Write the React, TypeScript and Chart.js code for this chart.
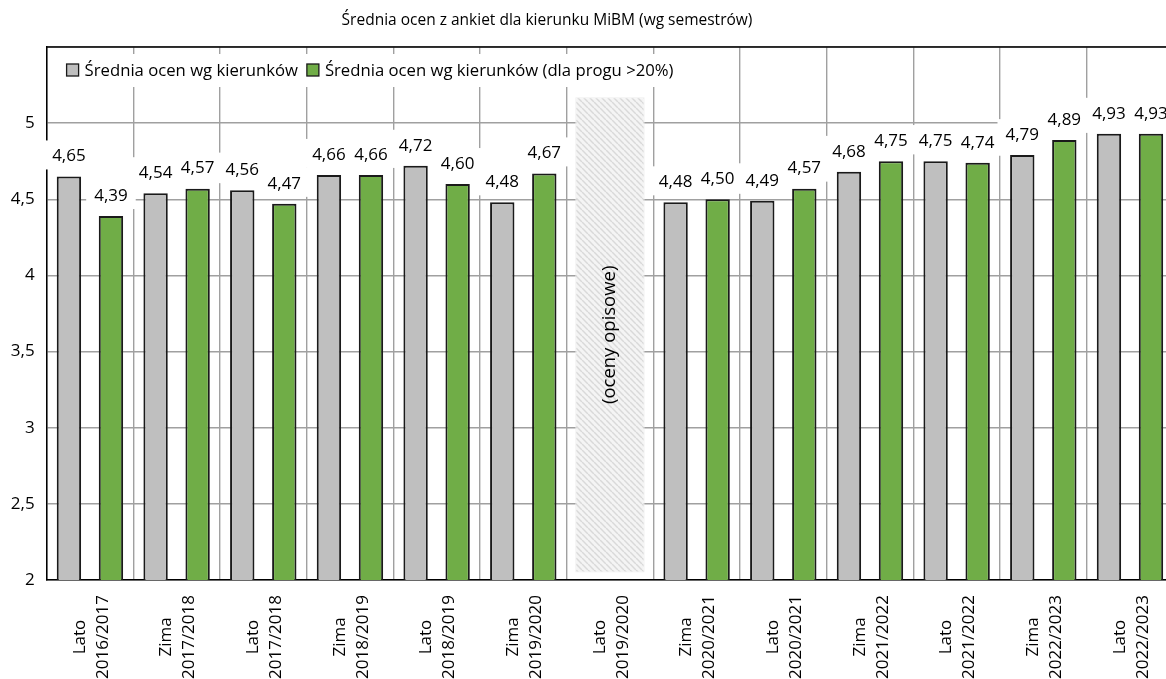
import React, { useEffect, useRef } from 'react';
import { Chart, registerables } from 'chart.js';

Chart.register(...registerables);

// ---------- data ----------
const chartTitle = 'Średnia ocen z ankiet dla kierunku MiBM (wg semestrów)';
const seriesNames = ['Średnia ocen wg kierunków', 'Średnia ocen wg kierunków (dla progu >20%)'];
const semesterSeason = ['Lato', 'Zima', 'Lato', 'Zima', 'Lato', 'Zima', 'Lato', 'Zima', 'Lato', 'Zima', 'Lato', 'Zima', 'Lato'];
const semesterYear = [
  '2016/2017', '2017/2018', '2017/2018', '2018/2019', '2018/2019', '2019/2020', '2019/2020',
  '2020/2021', '2020/2021', '2021/2022', '2021/2022', '2022/2023', '2022/2023',
];
const averageAll: (number | null)[] = [4.65, 4.54, 4.56, 4.66, 4.72, 4.48, null, 4.48, 4.49, 4.68, 4.75, 4.79, 4.93];
const averageThreshold: (number | null)[] = [4.39, 4.57, 4.47, 4.66, 4.6, 4.67, null, 4.5, 4.57, 4.75, 4.74, 4.89, 4.93];
const descriptiveRange: ([number, number] | null)[] = [null, null, null, null, null, null, [2.05, 5.17], null, null, null, null, null, null];
const descriptiveNote = '(oceny opisowe)';
const yMin = 2;
const yMax = 5.5;
const yStep = 0.5;

// ---------- styles ----------
const FONT = "'Open Sans', 'Noto Sans', sans-serif";
const GRAY = '#bfbfbf';
const GREEN = '#70ad47';
const BORDER = '#1a1a1a';
const GRID = '#a0a0a0';
const TEXT = '#000000';

function makeHatch(): CanvasPattern | string {
  const s = 6;
  const c = document.createElement('canvas');
  c.width = s;
  c.height = s;
  const g = c.getContext('2d');
  if (!g) return '#e6e6e6';
  g.fillStyle = '#f4f4f4';
  g.fillRect(0, 0, s, s);
  g.strokeStyle = '#d9d9d9';
  g.lineWidth = 1.5;
  for (const k of [-s, 0, s]) {
    g.beginPath();
    g.moveTo(k, 0);
    g.lineTo(k + s, s);
    g.stroke();
  }
  return g.createPattern(c, 'repeat') || '#e6e6e6';
}

const fmt = (v: number) => v.toFixed(2).replace('.', ',');

const overlayPlugin = {
  id: 'overlay',
  afterDatasetsDraw(chart: any) {
    const ctx: CanvasRenderingContext2D = chart.ctx;
    const area = chart.chartArea;
    ctx.save();
    // top frame line
    ctx.strokeStyle = '#000';
    ctx.lineWidth = 1.5;
    ctx.beginPath();
    ctx.moveTo(area.left, area.top);
    ctx.lineTo(area.right, area.top);
    ctx.stroke();

    // note inside the descriptive box
    const m2 = chart.getDatasetMeta(2);
    m2.data.forEach((el: any, i: number) => {
      if (!descriptiveRange[i]) return;
      const cy = (el.y + el.base) / 2;
      ctx.save();
      ctx.translate(el.x, cy);
      ctx.rotate(-Math.PI / 2);
      ctx.font = `18.5px ${FONT}`;
      ctx.fillStyle = TEXT;
      ctx.textAlign = 'center';
      ctx.textBaseline = 'middle';
      ctx.fillText(descriptiveNote, 0, 0);
      ctx.restore();
    });

    // data labels with white boxes
    ctx.font = `17px ${FONT}`;
    const items: { x: number; y: number; t: string; w: number }[] = [];
    [averageAll, averageThreshold].forEach((arr, di) => {
      const meta = chart.getDatasetMeta(di);
      meta.data.forEach((el: any, i: number) => {
        const v = arr[i];
        if (v == null) return;
        const t = fmt(v);
        const w = ctx.measureText(t).width + 16;
        items.push({ x: el.x, y: el.y - 21, t, w });
      });
    });
    ctx.fillStyle = '#ffffff';
    items.forEach((it) => ctx.fillRect(it.x - it.w / 2, it.y - 15, it.w, 29));
    ctx.fillStyle = TEXT;
    ctx.textAlign = 'center';
    ctx.textBaseline = 'middle';
    items.forEach((it) => ctx.fillText(it.t, it.x, it.y + 1));
    ctx.restore();
  },
  afterDraw(chart: any) {
    const ctx: CanvasRenderingContext2D = chart.ctx;
    const area = chart.chartArea;
    ctx.save();
    // title
    ctx.font = `15.5px ${FONT}`;
    ctx.fillStyle = TEXT;
    ctx.textAlign = 'center';
    ctx.textBaseline = 'middle';
    ctx.fillText(chartTitle, 547, 21);

    // legend (inside plot, top-left)
    ctx.font = `16.7px ${FONT}`;
    const colors = [GRAY, GREEN];
    const lx0 = area.left + 20;
    const ly = area.top + 23;
    let x = lx0;
    const widths = seriesNames.map((n) => ctx.measureText(n).width);
    const totalW = 12 + 6 + widths[0] + 9 + 12 + 6 + widths[1];
    ctx.fillStyle = '#ffffff';
    ctx.fillRect(lx0 - 10, ly - 16, totalW + 20, 33);
    seriesNames.forEach((n, i) => {
      ctx.fillStyle = colors[i];
      ctx.fillRect(x, ly - 6, 12, 12);
      ctx.strokeStyle = BORDER;
      ctx.lineWidth = 1.3;
      ctx.strokeRect(x, ly - 6, 12, 12);
      ctx.fillStyle = TEXT;
      ctx.textAlign = 'left';
      ctx.textBaseline = 'middle';
      ctx.fillText(n, x + 18, ly + 1);
      x += 18 + widths[i] + 9;
    });

    // x-axis labels: two lines, rotated, centred
    const xs = chart.scales.x;
    ctx.font = `17px ${FONT}`;
    ctx.fillStyle = TEXT;
    ctx.textAlign = 'center';
    ctx.textBaseline = 'middle';
    semesterSeason.forEach((s, i) => {
      const px = xs.getPixelForTick(i);
      ctx.save();
      ctx.translate(px + 1.5, area.bottom + 57);
      ctx.rotate(-Math.PI / 2);
      ctx.fillText(s, 0, -11.5);
      ctx.fillText(semesterYear[i], 0, 11.5);
      ctx.restore();
    });
    ctx.restore();
  },
};

export default function App() {
  const ref = useRef<HTMLCanvasElement | null>(null);

  useEffect(() => {
    if (!ref.current) return;
    const labels = semesterSeason.map((s, i) => [s, semesterYear[i]]);
    const chart = new Chart(ref.current, {
      type: 'bar',
      data: {
        labels,
        datasets: [
          {
            label: seriesNames[0],
            data: averageAll as any,
            backgroundColor: GRAY,
            borderColor: BORDER,
            borderWidth: 2,
            categoryPercentage: 0.97,
            barPercentage: 0.58,
          },
          {
            label: seriesNames[1],
            data: averageThreshold as any,
            backgroundColor: GREEN,
            borderColor: BORDER,
            borderWidth: 2,
            categoryPercentage: 0.97,
            barPercentage: 0.58,
          },
          {
            label: descriptiveNote,
            data: descriptiveRange as any,
            backgroundColor: makeHatch() as any,
            borderColor: '#ededed',
            borderWidth: 1,
            borderSkipped: false,
            grouped: false,
            categoryPercentage: 1,
            barPercentage: 0.8,
          } as any,
        ],
      },
      options: {
        animation: false,
        responsive: false,
        devicePixelRatio: 1,
        layout: { padding: { left: 0, right: 6.7, top: 47, bottom: 0 } },
        plugins: {
          legend: { display: false },
          title: { display: false },
          tooltip: { enabled: false },
        },
        scales: {
          x: {
            offset: true,
            grid: { display: true, offset: true, color: GRID, lineWidth: 1.4, drawTicks: false },
            border: { display: true, color: '#000', width: 1.5 },
            ticks: { display: false },
            afterFit: (scale: any) => {
              scale.height = 99;
            },
          },
          y: {
            min: yMin,
            max: yMax,
            grid: { color: GRID, lineWidth: 1.4, drawTicks: false },
            border: { display: true, color: '#000', width: 1.5 },
            ticks: {
              stepSize: yStep,
              padding: 12,
              color: TEXT,
              font: { family: FONT, size: 17 },
              callback: (v: any) => (Number(v) >= yMax ? '' : String(v).replace('.', ',')),
            },
            afterFit: (scale: any) => {
              scale.width = 46.6;
            },
          },
        },
      },
      plugins: [overlayPlugin],
    });
    return () => chart.destroy();
  }, []);

  return (
    <div style={{ position: 'fixed', left: 0, top: 0, width: 1166, height: 679, overflow: 'hidden', background: '#fff' }}>
      <canvas ref={ref} width={1180} height={679} style={{ display: 'block' }} />
    </div>
  );
}
